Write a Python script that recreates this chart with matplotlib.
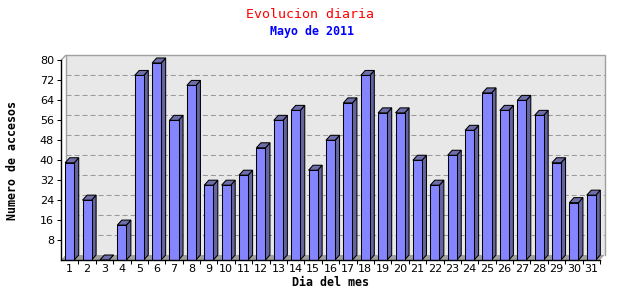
import numpy as np
import matplotlib
matplotlib.use("Agg")
import matplotlib.pyplot as plt
from matplotlib.patches import Polygon, Rectangle

dias = list(range(1, 32))
accesos = [39, 24, 0, 14, 74, 79, 56, 70, 30, 30,
           34, 45, 56, 60, 36, 48, 63, 74, 59, 59,
           40, 30, 42, 52, 67, 60, 64, 58, 39, 23, 26]
y_ticks = [8, 16, 24, 32, 40, 48, 56, 64, 72, 80]

front_col = '#8585ff'
side_col = '#6464a0'
top_col = '#6e6eaa'

fig = plt.figure(figsize=(6.4, 3.0), dpi=100)
ax = fig.add_axes([61 / 640, 40 / 300, 539 / 640, 199.5 / 300])
ax.set_xlim(0.5, 31.5)
ax.set_ylim(0, 80)
ax.set_facecolor('none')

# 3D depth in data units (about 4.5 px right, 5 px up)
dx = 4.5 / (539 / 31)
dy = 5 / (199.5 / 80)
w = 0.52
lw = 0.75

# back wall and floor
ax.add_patch(Rectangle((0.5 + dx, dy), 31, 80, facecolor='#e8e8e8',
                       edgecolor='none', clip_on=False, zorder=0))
ax.plot([0.5 + dx, 0.5 + dx, 31.5 + dx, 31.5 + dx], [dy, 80 + dy, 80 + dy, dy],
        color='#a0a0a0', lw=1, clip_on=False, zorder=0.4)
ax.plot([0.5, 0.5 + dx], [80, 80 + dy], color='#a0a0a0', lw=1,
        clip_on=False, zorder=0.4)
ax.add_patch(Polygon([(0.5, 0), (31.5, 0), (31.5 + dx, dy), (0.5 + dx, dy)],
                     closed=True, facecolor='#a0a0a0', edgecolor='none',
                     clip_on=False, zorder=0.5))
for t in y_ticks[:-1]:
    ax.plot([0.5 + dx, 31.5 + dx], [t + dy, t + dy], color='#999999', lw=lw,
            linestyle=(0, (4.8, 2.9)), clip_on=False, zorder=0.6)

# bars
for x, h in zip(dias, accesos):
    l, r = x - w / 2, x + w / 2
    ax.add_patch(Polygon([(r, 0), (r + dx, dy), (r + dx, h + dy), (r, h)],
                         closed=True, facecolor=side_col, edgecolor='black',
                         lw=lw, clip_on=False, zorder=2))
    ax.add_patch(Polygon([(l, h), (l + dx, h + dy), (r + dx, h + dy), (r, h)],
                         closed=True, facecolor=top_col, edgecolor='black',
                         lw=lw, clip_on=False, zorder=2))
    if h > 0:
        ax.add_patch(Rectangle((l, 0), w, h, facecolor=front_col,
                               edgecolor='black', lw=lw, clip_on=False, zorder=3))

# axes
for s in ['top', 'right']:
    ax.spines[s].set_visible(False)
for s in ['left', 'bottom']:
    ax.spines[s].set_color('black')
    ax.spines[s].set_linewidth(1)
    ax.spines[s].set_zorder(4)

ax.set_yticks(y_ticks)
ax.set_yticklabels([str(t) for t in y_ticks], fontsize=8, family='DejaVu Sans')
ax.tick_params(axis='y', length=3, width=0.75, pad=2)

ax.set_xticks(dias)
ax.set_xticklabels([str(d) for d in dias], fontsize=8, family='DejaVu Sans')
ax.set_xticks(np.arange(1.5, 32, 1), minor=True)
ax.tick_params(axis='x', which='major', length=0, pad=3)
ax.tick_params(axis='x', which='minor', length=3, width=0.75)

ax.set_xlabel('Dia del mes', family='DejaVu Sans Mono', fontweight='bold',
              fontsize=8.4, labelpad=1)
ax.set_ylabel('Numero de accesos', family='DejaVu Sans Mono', fontweight='bold',
              fontsize=8.4, labelpad=15)

fig.text(310 / 640, 1 - 14 / 300, 'Evolucion diaria', color='red',
         family='DejaVu Sans Mono', fontsize=9.5, ha='center', va='center')
fig.text(312 / 640, 1 - 32 / 300, 'Mayo de 2011', color='blue',
         family='DejaVu Sans Mono', fontweight='bold', fontsize=8.4,
         ha='center', va='center')

fig.savefig('out.png', dpi=100, facecolor='white')
